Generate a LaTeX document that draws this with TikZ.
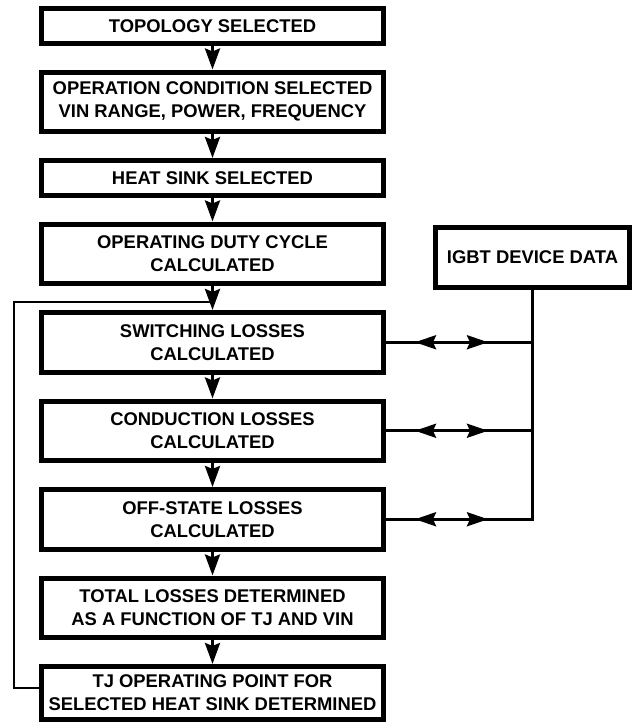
\documentclass[tikz,border=0pt]{standalone}
\usepackage{fontspec}
\setmainfont{Liberation Sans}
\usetikzlibrary{arrows.meta}
\usetikzlibrary{positioning}
\usetikzlibrary{decorations.markings}
\tikzstyle{stepbox} = [rectangle, minimum width=342pt, minimum height=59.5pt, inner sep=1pt, align=center, draw=black, line width=5pt, font=\fontsize{18.4}{23}\selectfont\bfseries]
\tikzstyle{onebox} = [stepbox, minimum height=34.5pt]
\tikzstyle{arrow} = [line width=3pt, -{Stealth[length=21pt, width=15pt, inset=3pt]}]
\tikzstyle{wire} = [line width=3pt, line cap=rect]
\tikzstyle{dataline} = [wire, postaction={decorate}, decoration={markings,
    mark=at position 29pt with {\arrowreversed{Stealth[length=21pt, width=14pt, inset=3pt]}},
    mark=at position 102pt with {\arrow{Stealth[length=21pt, width=14pt, inset=3pt]}}}]
\begin{document}
\begin{tikzpicture}[x=1pt, y=-1pt, node distance=24pt]
    \useasboundingbox (0,0) rectangle (634,723);
    \node (topo) [onebox] at (212.5,25.75) {TOPOLOGY SELECTED};
    \node (opcond) [stepbox, below = of topo] {OPERATION CONDITION SELECTED\\VIN RANGE, POWER, FREQUENCY};
    \node (sink) [onebox, below = of opcond] {HEAT SINK SELECTED};
    \node (duty) [stepbox, below = of sink] {OPERATING DUTY CYCLE\\CALCULATED};
    \node (sw) [stepbox, below = of duty] {SWITCHING LOSSES\\CALCULATED};
    \node (cond) [stepbox, below = of sw] {CONDUCTION LOSSES\\CALCULATED};
    \node (offst) [stepbox, below = of cond] {OFF-STATE LOSSES\\CALCULATED};
    \node (total) [stepbox, below = of offst] {TOTAL LOSSES DETERMINED\\AS A FUNCTION OF TJ AND VIN};
    \node (tj) [stepbox, minimum height=53pt, below = of total] {TJ OPERATING POINT FOR\\SELECTED HEAT SINK DETERMINED};
    \node (igbt) [stepbox, minimum width=194pt, minimum height=60pt] at (532.5,257.5) {IGBT DEVICE DATA};
    \coordinate (back) at (14,302);

    \draw [arrow] (topo) -- (opcond);
    \draw [arrow] (opcond) -- (sink);
    \draw [arrow] (sink) -- (duty);
    \draw [arrow] (duty) -- (sw);
    \draw [arrow] (sw) -- (cond);
    \draw [arrow] (cond) -- (offst);
    \draw [arrow] (offst) -- (total);
    \draw [arrow] (total) -- (tj);
    \draw [wire, line width=2.7pt] ([yshift=5pt]tj.west) -| (back) -- (back -| sw.north);
    \draw [wire] (igbt.south) -- (igbt.south |- offst.east);
    \draw [dataline] (sw.east) -- (sw.east -| igbt.south);
    \draw [dataline] (cond.east) -- (cond.east -| igbt.south);
    \draw [dataline] (offst.east) -- (offst.east -| igbt.south);
\end{tikzpicture}
\end{document}
